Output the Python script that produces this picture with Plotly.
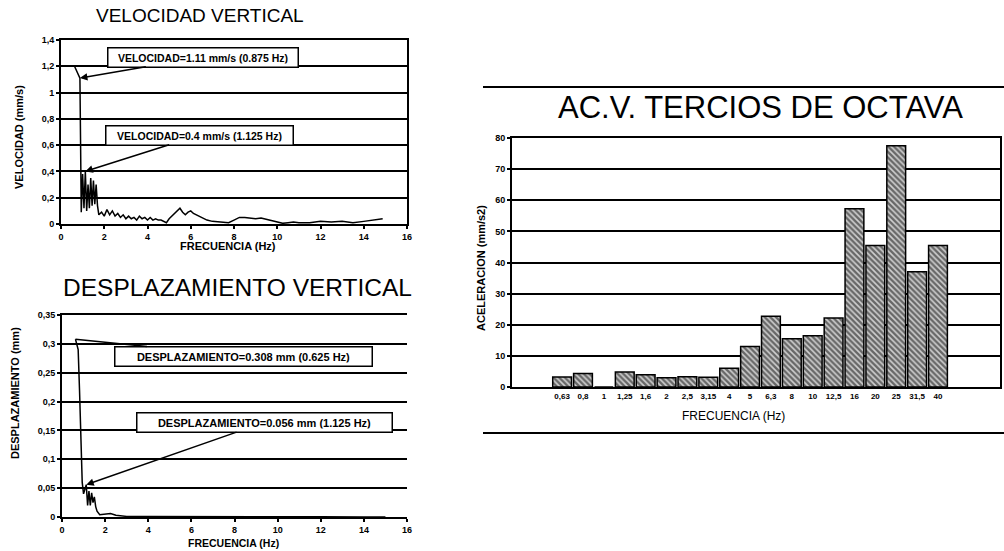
import plotly.graph_objects as go

# ---------------- data ----------------
vel_freq = [0.625, 0.75, 0.875, 0.9375, 1.0, 1.0625, 1.125, 1.1875, 1.25, 1.3125, 1.375, 1.4375,
            1.5, 1.5625, 1.625, 1.6875, 1.75, 1.875, 2.0, 2.125, 2.25, 2.375, 2.5, 2.625, 2.75,
            2.875, 3.0, 3.125, 3.25, 3.375, 3.5, 3.625, 3.75, 3.875, 4.0, 4.125, 4.25, 4.375,
            4.5, 4.625, 4.75, 4.875, 5.0, 5.125, 5.25, 5.375, 5.5, 5.625, 5.75, 5.875, 6.0,
            6.125, 6.25, 6.5, 6.75, 7.0, 7.25, 7.5, 7.75, 8.0, 8.25, 8.5, 8.75, 9.0, 9.25, 9.5,
            9.75, 10.0, 10.25, 10.5, 10.75, 11.0, 11.5, 12.0, 12.5, 13.0, 13.5, 14.0, 14.5, 14.875]
vel_vals = [1.2, 1.15, 1.11, 0.09, 0.38, 0.12, 0.40, 0.10, 0.30, 0.12, 0.35, 0.14,
            0.33, 0.15, 0.30, 0.14, 0.07, 0.09, 0.06, 0.11, 0.07, 0.10, 0.06, 0.08, 0.05,
            0.07, 0.04, 0.06, 0.04, 0.05, 0.03, 0.06, 0.04, 0.05, 0.03, 0.05, 0.03, 0.04,
            0.03, 0.03, 0.02, 0.01, 0.04, 0.06, 0.08, 0.10, 0.12, 0.09, 0.07, 0.09, 0.10,
            0.08, 0.07, 0.05, 0.03, 0.02, 0.015, 0.01, 0.01, 0.03, 0.05, 0.05, 0.045, 0.04, 0.045, 0.035,
            0.02, 0.01, 0.005, 0.01, 0.015, 0.01, 0.01, 0.02, 0.015, 0.02, 0.01, 0.02, 0.03, 0.04]

disp_freq = [0.625, 0.75, 0.8125, 0.875, 0.9375, 1.0, 1.0625, 1.125, 1.1875, 1.25, 1.3125,
             1.375, 1.4375, 1.5, 1.5625, 1.625, 1.75, 2.0, 2.25, 2.5, 2.75, 3.0, 4.0, 6.0,
             8.0, 10.0, 12.0, 14.0, 15.0]
disp_vals = [0.308, 0.29, 0.22, 0.12, 0.06, 0.04, 0.05, 0.056, 0.02, 0.045, 0.02,
             0.042, 0.025, 0.035, 0.018, 0.01, 0.004, 0.005, 0.006, 0.003, 0.002, 0.001, 0.001, 0.0005,
             0.0005, 0.0003, 0.0003, 0.0002, 0.0002]

tercio_cats = ["0,63", "0,8", "1", "1,25", "1,6", "2", "2,5", "3,15", "4", "5", "6,3", "8",
               "10", "12,5", "16", "20", "25", "31,5", "40"]
tercio_vals = [3.2, 4.3, 0, 4.8, 3.9, 3.0, 3.3, 3.1, 6.0, 13.0, 22.7, 15.5,
               16.5, 22.2, 57.3, 45.5, 77.5, 37.0, 45.5]

# ---------------- layout helpers ----------------
W, H = 1004, 551
def px(x):
    return x / W
def py(y):
    return 1 - y / H

FONT = "Liberation Sans, Arial, sans-serif"
tickfont = dict(family=FONT, size=9, color="black", weight="bold")

fig = go.Figure()

fig.add_trace(go.Scatter(x=vel_freq, y=vel_vals, mode="lines",
                         line=dict(color="black", width=1.5), xaxis="x", yaxis="y",
                         showlegend=False))
fig.add_trace(go.Scatter(x=disp_freq, y=disp_vals, mode="lines",
                         line=dict(color="black", width=1.5), xaxis="x2", yaxis="y2",
                         showlegend=False))
fig.add_trace(go.Bar(x=tercio_cats, y=tercio_vals, xaxis="x3", yaxis="y3",
                     marker=dict(color="#333", line=dict(color="black", width=1.5),
                                 pattern=dict(shape="\\", fgcolor="black", bgcolor="#cfcfcf",
                                              size=4, solidity=0.6)),
                     showlegend=False))

axis_common = dict(showline=True, linecolor="black", linewidth=2, ticks="outside",
                   ticklen=3, tickwidth=1.5, tickcolor="black", tickfont=tickfont,
                   zeroline=False, automargin=False)

fig.update_layout(
    width=W, height=H, margin=dict(l=0, r=0, t=0, b=0),
    paper_bgcolor="white", plot_bgcolor="white",
    separators=",.",
    bargap=0.1,
    xaxis=dict(domain=[px(61), px(407)], range=[0, 16], dtick=2, showgrid=False,
               mirror=True, anchor="y", **axis_common),
    yaxis=dict(domain=[py(224), py(40)], range=[0, 1.4], dtick=0.2, showgrid=True,
               gridcolor="black", gridwidth=2, mirror=True, anchor="x", **axis_common),
    xaxis2=dict(domain=[px(62), px(407)], range=[0, 16], dtick=2, showgrid=False,
                mirror=True, anchor="y2", **axis_common),
    yaxis2=dict(domain=[py(517), py(315)], range=[0, 0.35], dtick=0.05, showgrid=True,
                gridcolor="black", gridwidth=2, anchor="x2", **axis_common),
    xaxis3=dict(domain=[px(512), px(1000)], range=[-2.4, 20.97], type="category",
                showgrid=False, mirror=True, anchor="y3", automargin=False,
                showline=True, linecolor="black", linewidth=2, ticks="",
                tickfont=dict(family=FONT, size=8, color="black", weight="bold"), zeroline=False),
    yaxis3=dict(domain=[py(387), py(138)], range=[0, 80], dtick=10, showgrid=True,
                gridcolor="black", gridwidth=1.5, mirror=True, anchor="x3", **axis_common),
)

def label(text, x, y, size, weight="normal", angle=0):
    return dict(text=text, x=px(x), y=py(y), xref="paper", yref="paper",
                xanchor="center", yanchor="middle", textangle=angle, showarrow=False,
                font=dict(family=FONT, size=size, color="black", weight=weight))

ann = []
# titles
ann.append(label("VELOCIDAD VERTICAL", 200, 15, 19))
ann.append(label("DESPLAZAMIENTO VERTICAL", 237, 287, 24.5))
ann.append(label("AC.V. TERCIOS DE OCTAVA", 760, 107, 31))
# axis titles
ann.append(label("FRECUENCIA (Hz)", 228, 246, 11, "bold"))
ann.append(label("FRECUENCIA (Hz)", 233, 543, 10.5, "bold"))
ann.append(label("FRECUENCIA (Hz)", 733, 416, 12))
ann.append(label("VELOCIDAD (mm/s)", 19, 137, 11, "bold", -90))
ann.append(label("DESPLAZAMIENTO (mm)", 15, 393, 11, "bold", -90))
ann.append(label("ACELERACION (mm/s2)", 481, 268, 11, "bold", -90))

box = dict(bgcolor="white", bordercolor="black", borderwidth=1.5, borderpad=3,
           arrowcolor="black", arrowwidth=1.5, arrowsize=1)
vfont = dict(family=FONT, size=10.5, color="black", weight="bold")
dfont = dict(family=FONT, size=11, color="black", weight="bold")
ann.append(dict(text="VELOCIDAD=1.11 mm/s (0.875 Hz)", x=0.875, y=1.11, xref="x", yref="y",
                ax=6.56, ay=1.27, axref="x", ayref="y", showarrow=True, arrowhead=2,
                width=183, font=vfont, **box))
ann.append(dict(text="VELOCIDAD=0.4 mm/s (1.125 Hz)", x=1.125, y=0.4, xref="x", yref="y",
                ax=6.42, ay=0.677, axref="x", ayref="y", showarrow=True, arrowhead=2,
                width=180, font=vfont, **box))
ann.append(dict(text="DESPLAZAMIENTO=0.308 mm (0.625 Hz)", x=0.625, y=0.308, xref="x2", yref="y2",
                ax=8.42, ay=0.2786, axref="x2", ayref="y2", showarrow=True, arrowhead=0,
                width=250, font=dfont, **box))
ann.append(dict(text="DESPLAZAMIENTO=0.056 mm (1.125 Hz)", x=1.125, y=0.056, xref="x2", yref="y2",
                ax=9.39, ay=0.164, axref="x2", ayref="y2", showarrow=True, arrowhead=2,
                width=248, font=dfont, **box))

fig.update_layout(annotations=ann)

fig.add_shape(type="line", x0=px(483), x1=px(1004), y0=py(87), y1=py(87),
              xref="paper", yref="paper", line=dict(color="black", width=2))
fig.add_shape(type="line", x0=px(483), x1=px(1004), y0=py(433), y1=py(433),
              xref="paper", yref="paper", line=dict(color="black", width=2))

fig.write_html("out.html")
